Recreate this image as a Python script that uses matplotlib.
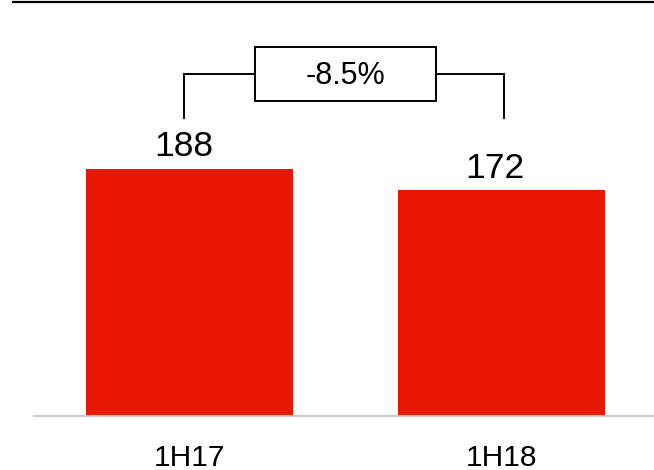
import matplotlib
matplotlib.use("Agg")
from matplotlib import pyplot as plt
from matplotlib.lines import Line2D
from matplotlib.patches import Rectangle

plt.rcParams['font.family'] = ['Liberation Sans', 'DejaVu Sans']

periods = ['1H17', '1H18']
values = [188, 172]
change_label = '-8.5%'

bar_color = '#E81805'

fig = plt.figure(figsize=(6.54, 4.70), dpi=100)
ax = fig.add_axes([34 / 654, 54 / 470, 620 / 654, 416 / 470])

x = list(range(len(periods)))
ax.bar(x, values, width=0.665, color=bar_color, zorder=2)

ax.set_xlim(-0.5, 1.49)
ax.set_ylim(0, 316.6)

# value labels above the bars
for xi, v in zip(x, values):
    ax.text(xi - 0.02, v + 9.5, str(v), ha='center', va='baseline',
            fontsize=25.5, color='black')

# bracket with the change box between the two bars
top_y = 260
low_y = 227
ax.plot([x[0] - 0.02, x[0] - 0.02, x[1] + 0.01, x[1] + 0.01],
        [low_y, top_y, top_y, low_y], color='black', lw=1.4,
        solid_joinstyle='miter', zorder=3)
mid = (x[0] + x[1]) / 2
ax.add_patch(Rectangle((mid - 0.29, top_y - 20.5), 0.58, 41,
                       facecolor='white', edgecolor='black', lw=1.4, zorder=4))
ax.text(mid + 0.0, top_y - 1, change_label, ha='center', va='center',
        fontsize=22, zorder=5)

ax.set_xticks(x)
ax.set_xticklabels(periods, fontsize=21.5)
ax.tick_params(axis='x', length=0, pad=20)
ax.set_yticks([])
for side in ['top', 'right', 'left']:
    ax.spines[side].set_visible(False)
ax.spines['bottom'].set_color('#C8C8C8')
ax.spines['bottom'].set_linewidth(1.5)

# rule across the top of the figure
fig.add_artist(Line2D([13 / 654, 1.0], [1 - 2 / 470, 1 - 2 / 470],
                      color='black', lw=1.6, transform=fig.transFigure))

fig.savefig('out.png', dpi=100)
